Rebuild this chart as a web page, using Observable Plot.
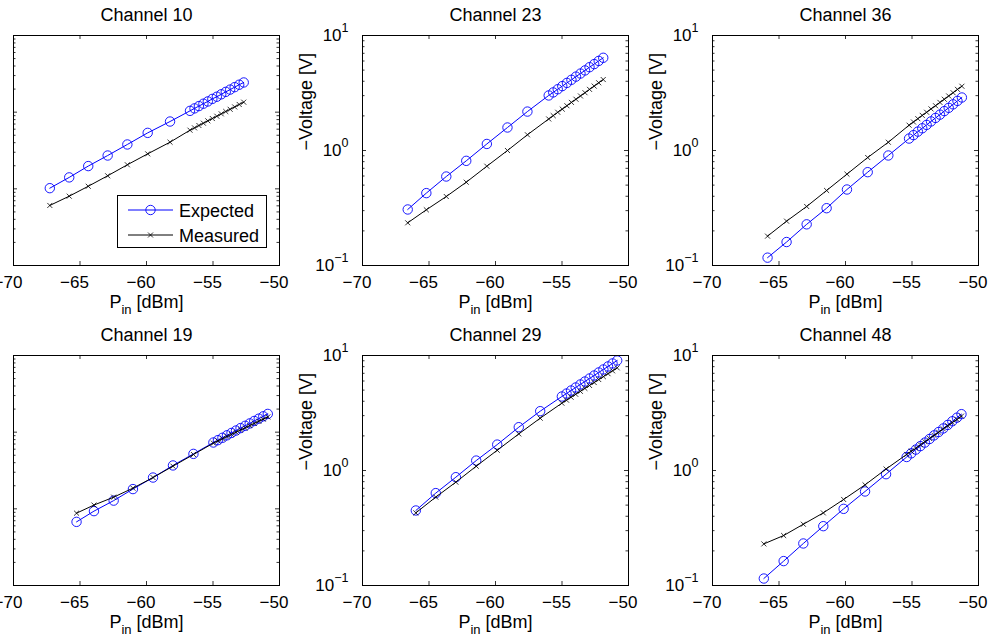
<!DOCTYPE html>
<html><head><meta charset="utf-8">
<script src="https://cdn.jsdelivr.net/npm/d3@7"></script>
<script src="https://cdn.jsdelivr.net/npm/@observablehq/plot@0.6"></script>
<style>
html,body{margin:0;padding:0;background:#fff;}
#fig{position:relative;width:991px;height:637px;overflow:hidden;background:#fff;font-family:"Liberation Sans",Arial,sans-serif;}
#fig svg{position:absolute;overflow:visible;max-width:none;}
</style></head><body><div id="fig"></div>
<script>
// ---- data ----
const xTicks = [-70, -65, -60, -55, -50];
const seriesNames = ["Expected", "Measured"];

const pin10 = [-67.27, -65.81, -64.38, -62.92, -61.44, -59.91, -58.23, -56.73, -56.39, -56.06, -55.72, -55.39, -55.05, -54.71, -54.38, -54.04, -53.71, -53.37, -53.03, -52.69];
const exp10 = [0.102, 0.141, 0.198, 0.272, 0.379, 0.537, 0.755, 1.04, 1.12, 1.20, 1.29, 1.38, 1.49, 1.59, 1.71, 1.84, 1.97, 2.12, 2.28, 2.44];
const meas10 = [0.0607, 0.0802, 0.108, 0.148, 0.206, 0.286, 0.406, 0.582, 0.624, 0.670, 0.718, 0.771, 0.826, 0.885, 0.951, 1.02, 1.09, 1.17, 1.26, 1.35];

const pin23 = [-66.6, -65.2, -63.7, -62.2, -60.65, -59.1, -57.6, -56.0, -55.66, -55.32, -54.98, -54.63, -54.29, -53.95, -53.61, -53.27, -52.93, -52.58, -52.24, -51.9];
const exp23 = [0.307, 0.426, 0.594, 0.813, 1.14, 1.585, 2.18, 3.01, 3.20, 3.41, 3.63, 3.87, 4.12, 4.39, 4.67, 4.97, 5.30, 5.64, 6.01, 6.40];
const meas23 = [0.235, 0.305, 0.398, 0.53, 0.73, 1.0, 1.37, 1.88, 2.01, 2.15, 2.29, 2.45, 2.62, 2.79, 2.98, 3.18, 3.40, 3.63, 3.88, 4.14];

const pin36 = [-65.86, -64.43, -62.92, -61.42, -59.89, -58.33, -56.78, -55.22, -54.89, -54.56, -54.23, -53.90, -53.57, -53.23, -52.90, -52.57, -52.24, -51.91, -51.58, -51.25];
const exp36 = [0.117, 0.160, 0.228, 0.315, 0.458, 0.648, 0.905, 1.27, 1.36, 1.46, 1.56, 1.67, 1.79, 1.92, 2.05, 2.20, 2.35, 2.52, 2.70, 2.89];
const meas36 = [0.180, 0.243, 0.326, 0.449, 0.623, 0.869, 1.18, 1.66, 1.77, 1.89, 2.02, 2.15, 2.30, 2.45, 2.62, 2.79, 2.98, 3.18, 3.40, 3.62];

const pin19 = [-65.26, -63.95, -62.47, -61.02, -59.51, -58.01, -56.47, -54.97, -54.63, -54.29, -53.95, -53.61, -53.27, -52.93, -52.58, -52.24, -51.90, -51.56, -51.22, -50.88];
const exp19 = [0.0676, 0.0933, 0.128, 0.181, 0.256, 0.368, 0.521, 0.733, 0.787, 0.845, 0.910, 0.977, 1.05, 1.13, 1.21, 1.30, 1.40, 1.50, 1.61, 1.73];
const meas19 = [0.0878, 0.112, 0.142, 0.186, 0.256, 0.360, 0.511, 0.719, 0.769, 0.821, 0.877, 0.936, 1.00, 1.07, 1.14, 1.22, 1.30, 1.39, 1.48, 1.58];

const pin29 = [-65.99, -64.49, -62.98, -61.45, -59.87, -58.25, -56.64, -55.01, -54.66, -54.32, -53.97, -53.62, -53.28, -52.93, -52.58, -52.24, -51.89, -51.54, -51.20, -50.85];
const exp29 = [0.449, 0.636, 0.875, 1.22, 1.68, 2.38, 3.28, 4.40, 4.67, 4.96, 5.27, 5.60, 5.94, 6.31, 6.70, 7.12, 7.56, 8.03, 8.53, 9.05];
const meas29 = [0.428, 0.587, 0.792, 1.09, 1.50, 2.08, 2.85, 3.85, 4.09, 4.34, 4.60, 4.88, 5.18, 5.49, 5.82, 6.18, 6.55, 6.95, 7.36, 7.81];

const pin48 = [-66.14, -64.65, -63.17, -61.67, -60.14, -58.53, -56.95, -55.40, -55.06, -54.71, -54.37, -54.03, -53.68, -53.34, -53.00, -52.65, -52.31, -51.97, -51.62, -51.28];
const exp48 = [0.115, 0.163, 0.232, 0.328, 0.464, 0.657, 0.929, 1.31, 1.41, 1.52, 1.63, 1.75, 1.88, 2.02, 2.16, 2.32, 2.49, 2.68, 2.88, 3.09];
const meas48 = [0.230, 0.272, 0.341, 0.428, 0.560, 0.750, 1.03, 1.38, 1.47, 1.56, 1.67, 1.78, 1.90, 2.02, 2.15, 2.30, 2.45, 2.61, 2.78, 2.97];

const panels = [
  {title: "Channel 10", pin: pin10, expected: exp10, measured: meas10, yDomain: [0.01, 10], left: 13, top: 35, legend: true},
  {title: "Channel 23", pin: pin23, expected: exp23, measured: meas23, yDomain: [0.1, 10], left: 362, top: 35},
  {title: "Channel 36", pin: pin36, expected: exp36, measured: meas36, yDomain: [0.1, 10], left: 712, top: 35},
  {title: "Channel 19", pin: pin19, expected: exp19, measured: meas19, yDomain: [0.01, 10], left: 13, top: 355},
  {title: "Channel 29", pin: pin29, expected: exp29, measured: meas29, yDomain: [0.1, 10], left: 362, top: 355},
  {title: "Channel 48", pin: pin48, expected: exp48, measured: meas48, yDomain: [0.1, 10], left: 712, top: 355}
];

// ---- layout ----
const W = 266, H = 230, ML = 80, MR = 12, MT = 35, MB = 55;
const FONT = "'Liberation Sans', Arial, Helvetica, sans-serif";
const BLUE = "#0000ff";
const fig = document.getElementById("fig");

function fmtExp(v) {
  const e = Math.round(Math.log10(v));
  return "10^" + (e < 0 ? "\u2212" + (-e) : String(e));
}

panels.forEach(p => {
  const e0 = Math.round(Math.log10(p.yDomain[0])), e1 = Math.round(Math.log10(p.yDomain[1]));
  const major = d3.range(e0, e1 + 1).map(e => Math.pow(10, e));
  const minor = d3.range(e0, e1).flatMap(e => d3.range(2, 10).map(k => k * Math.pow(10, e)));
  const rowsE = p.pin.map((x, i) => ({x, v: p.expected[i]}));
  const rowsM = p.pin.map((x, i) => ({x, v: p.measured[i]}));

  const svg = Plot.plot({
    width: ML + W + MR, height: MT + H + MB,
    marginLeft: ML, marginRight: MR, marginTop: MT, marginBottom: MB,
    style: {fontFamily: FONT, fontSize: "17px", background: "transparent", color: "black", overflow: "visible"},
    x: {type: "linear", domain: [-70, -50], axis: null, label: null},
    y: {type: "log", domain: p.yDomain, axis: null, label: null},
    marks: [
      // inward ticks (box on all sides)
      Plot.ruleX(xTicks, {stroke: "black", strokeWidth: 0.8, insetTop: H - 4}),
      Plot.ruleX(xTicks, {stroke: "black", strokeWidth: 0.8, insetBottom: H - 4}),
      Plot.ruleY(major, {stroke: "black", strokeWidth: 0.8, insetRight: W - 4}),
      Plot.ruleY(major, {stroke: "black", strokeWidth: 0.8, insetLeft: W - 4}),
      Plot.ruleY(minor, {stroke: "black", strokeWidth: 0.8, insetRight: W - 2.5}),
      Plot.ruleY(minor, {stroke: "black", strokeWidth: 0.8, insetLeft: W - 2.5}),
      // tick labels
      Plot.axisX(xTicks, {anchor: "bottom", tickSize: 0, tickPadding: 10, dx: -5.5,
        tickFormat: d => d < 0 ? "\u2212" + (-d) : String(d)}),
      Plot.axisY(major, {anchor: "left", tickSize: 0, tickPadding: 14, tickFormat: fmtExp}),
      // data
      Plot.line(rowsE, {x: "x", y: "v", stroke: BLUE, strokeWidth: 1}),
      Plot.dot(rowsE, {x: "x", y: "v", r: 4.7, stroke: BLUE, fill: "none", strokeWidth: 0.9}),
      Plot.line(rowsM, {x: "x", y: "v", stroke: "black", strokeWidth: 1}),
      Plot.dot(rowsM, {x: "x", y: "v", symbol: "times", r: 2.4, stroke: "black", strokeWidth: 0.8}),
      Plot.frame({stroke: "black", strokeWidth: 1}),
      // titles & labels
      Plot.text([p.title], {frameAnchor: "top", lineAnchor: "middle", dy: -20, fontSize: 18}),
      Plot.text(["P_in [dBm]"], {frameAnchor: "bottom", lineAnchor: "middle", dy: 37, fontSize: 18}),
      Plot.text(["\u2212Voltage [V]"], {frameAnchor: "left", lineAnchor: "middle", dx: -56, rotate: -90, fontSize: 18})
    ]
  });

  // rich text: superscripts and subscripts
  d3.select(svg).selectAll("text").each(function() {
    const t = this.textContent;
    const sel = d3.select(this);
    if (t.startsWith("10^")) {
      const ex = t.slice(3);
      sel.text("10");
      sel.append("tspan").attr("dy", -9).attr("font-size", "12.5px").text(ex);
    } else if (t === "P_in [dBm]") {
      sel.text("P");
      sel.append("tspan").attr("dy", 6).attr("font-size", "13px").text("in");
      sel.append("tspan").attr("dy", -6).attr("font-size", "18px").text("\u00a0[dBm]");
    }
  });

  svg.style.left = (p.left - ML) + "px";
  svg.style.top = (p.top - MT) + "px";
  fig.appendChild(svg);

  if (p.legend) {
    const lx = p.left + 104, ly = p.top + 160, lw = 150, lh = 53;
    const lg = d3.select(fig).append("svg")
      .attr("width", lw).attr("height", lh)
      .style("left", lx + "px").style("top", ly + "px")
      .style("font-family", FONT).style("font-size", "18px");
    lg.append("rect").attr("x", 0.5).attr("y", 0.5).attr("width", lw - 1).attr("height", lh - 1)
      .attr("fill", "white").attr("stroke", "black").attr("stroke-width", 1);
    const rowsY = [15, 40];
    seriesNames.forEach((name, i) => {
      const y = rowsY[i];
      const col = i === 0 ? BLUE : "black";
      lg.append("line").attr("x1", 11).attr("x2", 56).attr("y1", y).attr("y2", y)
        .attr("stroke", col).attr("stroke-width", 1);
      if (i === 0) {
        lg.append("circle").attr("cx", 33.5).attr("cy", y).attr("r", 4.7)
          .attr("fill", "none").attr("stroke", col).attr("stroke-width", 0.9);
      } else {
        lg.append("path").attr("d", `M${33.5-2.5},${y-2.5}L${33.5+2.5},${y+2.5}M${33.5-2.5},${y+2.5}L${33.5+2.5},${y-2.5}`)
          .attr("stroke", col).attr("stroke-width", 0.8);
      }
      lg.append("text").attr("x", 62).attr("y", y + 6.5).attr("fill", "black").text(name);
    });
  }
});
</script></body></html>
